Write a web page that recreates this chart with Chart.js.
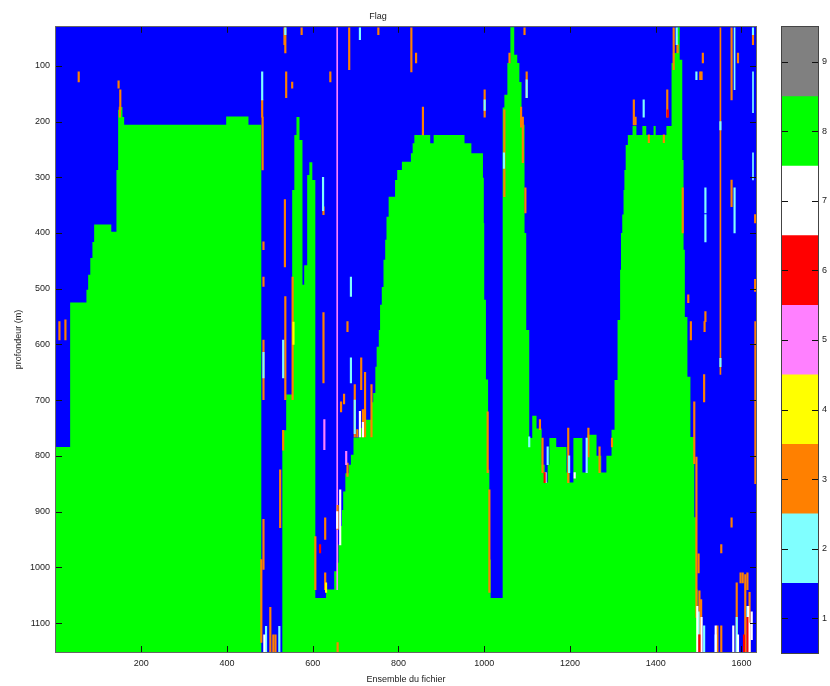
<!DOCTYPE html>
<html>
<head>
<meta charset="utf-8">
<script src="https://cdn.jsdelivr.net/npm/chart.js@4.4.0/dist/chart.umd.min.js"></script>
<style>
  body { margin: 0; background: #fff; }
  #main { position: absolute; left: 0; top: 0; }
  #bar { position: absolute; left: 760px; top: 0; }
</style>
</head>
<body>
<canvas id="main" width="760" height="686"></canvas>
<canvas id="bar" width="70" height="686"></canvas>
<script>
const ensembleRange = [1, 1634];
const depthRange = [30, 1152];
const ensembleTicks = [200, 400, 600, 800, 1000, 1200, 1400, 1600];
const depthTicks = [100, 200, 300, 400, 500, 600, 700, 800, 900, 1000, 1100];

const flagValues = [1, 2, 3, 4, 5, 6, 7, 8, 9];
const flagColors = ['#0000ff', '#80ffff', '#ff8000', '#ffff00', '#ff80ff', '#ff0000', '#ffffff', '#00ff00', '#808080'];

// top of the flag-8 (green) zone, per ensemble step; 1152 = no green in that column
const greenEdgeX = [1, 34, 72, 76, 81, 86, 90, 130, 142, 146, 151, 156, 160, 398, 450, 480,
  529, 538, 552, 557, 562, 569, 576, 580, 587, 592, 599,
  606, 631, 650, 656, 660, 664, 668, 671, 676, 684, 689, 695, 708, 722, 736, 741, 746, 749, 754, 757,
  761, 765, 769, 772, 777, 792, 797, 808, 829, 833, 837, 874, 882, 954, 970, 997, 999, 1000, 1004, 1009, 1012, 1015,
  1043, 1047, 1054, 1061, 1070, 1077, 1082, 1087, 1094, 1098,
  1105, 1112, 1122, 1134, 1141, 1148, 1152, 1168, 1192, 1199, 1208, 1229, 1241, 1262, 1273, 1285, 1297,
  1304, 1311, 1317, 1319, 1322, 1325, 1327, 1330, 1335, 1346, 1355, 1369, 1378, 1395, 1400, 1425,
  1437, 1440, 1449, 1451, 1456, 1462, 1465, 1468, 1474, 1481, 1490, 1495, 1498, 1634];
const greenEdgeDepth = [784, 525, 502, 475, 445, 416, 385, 398, 287, 179, 174, 192, 206, 191, 206, 1152,
  754, 690, 323, 224, 192, 233, 493, 458, 296, 273, 305,
  1055, 1040, 1007, 992, 959, 926, 897, 864, 831, 816, 798, 767, 750, 735, 704, 687, 640, 604, 574, 529,
  497, 448, 412, 371, 335, 305, 287, 272, 257, 239, 224, 239, 224, 239, 257, 301, 382, 520, 663, 825, 986, 1055,
  175, 152, 95, 31, 80, 95, 129, 206, 400, 574,
  768, 728, 751, 816, 848, 816, 768, 784, 830, 848, 768, 830, 762, 800, 830, 800, 753,
  664, 556, 466, 400, 367, 323, 287, 242, 224, 208, 224, 208, 224, 208, 224, 208,
  95, 77, 48, 31, 89, 269, 430, 551, 658, 766, 910, 1040, 1152, 1152];

// isolated flags: [ensemble, depth from, depth to]
const flag2Specks = [[482, 111, 161], [485, 614, 660], [531, 592, 660], [536, 32, 44], [491, 1106, 1152], [522, 1106, 1152],
  [624, 300, 360], [689, 479, 514], [689, 624, 669], [710, 32, 53], [698, 700, 760], [1001, 161, 180], [1046, 256, 284],
  [1099, 125, 157], [1105, 766, 784], [1148, 784, 816], [1198, 800, 830], [1239, 768, 830], [1372, 161, 192],
  [1449, 32, 62], [1495, 111, 125], [1516, 319, 364], [1516, 367, 416], [1584, 319, 400], [1627, 32, 44],
  [1551, 200, 215], [1551, 625, 640], [1513, 1105, 1152], [1589, 1090, 1152], [1614, 1070, 1152], [1500, 1080, 1120], [1540, 1121, 1152]];
const flag2Lines = [[1584, 32, 143], [1627, 111, 184], [1627, 256, 305]];
const flag3Specks = [[54, 111, 129], [9, 559, 592], [23, 556, 592], [147, 127, 140], [151, 143, 179], [150, 174, 192],
  [482, 161, 192], [483, 192, 287], [485, 416, 430], [485, 479, 496], [485, 592, 699], [485, 914, 1004], [480, 986, 1135],
  [534, 32, 62], [536, 32, 77], [538, 111, 157], [552, 129, 140], [535, 340, 461], [536, 514, 699], [524, 825, 929], [531, 754, 790],
  [501, 1072, 1152], [508, 1121, 1152], [513, 1121, 1152], [553, 479, 699], [574, 32, 44],
  [625, 353, 367], [625, 543, 669], [641, 111, 129], [681, 559, 577], [713, 624, 681], [698, 672, 766], [717, 717, 766],
  [722, 650, 766], [737, 672, 766], [666, 703, 721], [673, 689, 707], [606, 945, 1040], [629, 911, 950], [629, 1010, 1040],
  [658, 889, 932], [681, 813, 837], [704, 753, 766], [658, 1135, 1152], [685, 32, 107], [753, 32, 44], [841, 77, 95],
  [830, 32, 111], [857, 174, 224], [1001, 143, 192], [1008, 721, 830], [1012, 861, 1045],
  [1059, 77, 95], [1047, 179, 335], [1086, 174, 210], [1090, 192, 274], [1096, 319, 364], [1099, 111, 157], [1094, 32, 44],
  [1130, 735, 753], [1136, 768, 830], [1196, 750, 848], [1243, 750, 802], [1269, 784, 830], [1298, 768, 784],
  [1349, 161, 206], [1353, 192, 206], [1384, 224, 238], [1419, 224, 238], [1427, 143, 192], [1442, 32, 107], [1451, 62, 77],
  [1463, 319, 400], [1504, 111, 125], [1507, 111, 125], [1510, 77, 95], [1577, 32, 161], [1592, 77, 95], [1577, 305, 353],
  [1627, 44, 62], [1632, 367, 382], [1632, 483, 505], [1482, 559, 592], [1476, 511, 525], [1516, 541, 559], [1514, 559, 577],
  [1513, 654, 703], [1490, 703, 814], [1495, 802, 1090], [1577, 911, 928], [1553, 959, 974], [1500, 976, 1010],
  [1502, 1042, 1152], [1506, 1058, 1152], [1544, 1105, 1152], [1553, 1105, 1152], [1589, 1028, 1152], [1598, 1010, 1028],
  [1603, 1010, 1028], [1609, 1013, 1152], [1619, 1045, 1152], [1614, 1010, 1040]];
const flag3Lines = [[1551, 32, 654], [1632, 559, 850]];
const flag4Specks = [[631, 1028, 1045], [555, 560, 600]];
const flag5Specks = [[678, 792, 816], [627, 735, 789]];
const flag5Lines = [[657, 32, 1040]];
const flag6Specks = [[617, 959, 974], [1141, 830, 848], [1428, 179, 192], [1502, 1121, 1152], [1614, 1090, 1152], [1606, 1121, 1152]];
const flag7Specks = [[664, 861, 960], [657, 900, 930], [710, 720, 766], [717, 740, 766], [1143, 830, 848], [1211, 830, 840],
  [1497, 1070, 1152], [1507, 1090, 1152], [1540, 1105, 1152], [1581, 1105, 1152], [1592, 1121, 1152], [1616, 1070, 1152],
  [1619, 1100, 1152], [1624, 1080, 1130], [487, 1121, 1152]];

const font = { family: 'Liberation Sans', size: 9, weight: 'normal' };
const textColor = '#222';
const plain = v => String(v);

function specks(list, flag, thickness, order) {
  return {
    type: 'bar',
    data: list.map(s => ({ x: s[0], y: [s[1], s[2]] })),
    backgroundColor: flagColors[flag - 1],
    borderWidth: 0,
    barThickness: thickness,
    grouped: false,
    order: order
  };
}

const frame = {
  id: 'frame',
  afterDatasetsDraw(chart) {
    const { ctx, chartArea: a, scales: { x, y } } = chart;
    ctx.save();
    ctx.strokeStyle = '#111';
    ctx.lineWidth = 1;
    ctx.beginPath();
    ensembleTicks.forEach(v => {
      const px = Math.round(x.getPixelForValue(v)) + 0.5;
      ctx.moveTo(px, a.bottom); ctx.lineTo(px, a.bottom - 6);
      ctx.moveTo(px, a.top); ctx.lineTo(px, a.top + 6);
    });
    depthTicks.forEach(v => {
      const py = Math.round(y.getPixelForValue(v)) + 0.5;
      ctx.moveTo(a.left, py); ctx.lineTo(a.left + 6, py);
      ctx.moveTo(a.right, py); ctx.lineTo(a.right - 6, py);
    });
    ctx.stroke();
    ctx.strokeStyle = '#666';
    ctx.strokeRect(Math.round(a.left) - 0.5, Math.round(a.top) - 0.5, Math.round(a.right - a.left) + 1, Math.round(a.bottom - a.top) + 1);
    ctx.restore();
  }
};

new Chart(document.getElementById('main'), {
  type: 'line',
  data: {
    datasets: [
      {
        label: '1',
        data: [{ x: ensembleRange[0], y: depthRange[1] }, { x: ensembleRange[1], y: depthRange[1] }],
        borderWidth: 0, borderColor: 'rgba(0,0,0,0)', pointRadius: 0,
        fill: { value: depthRange[0] }, backgroundColor: flagColors[0], order: 20
      },
      {
        label: '8',
        data: greenEdgeX.map((x, i) => ({ x: x, y: greenEdgeDepth[i] })),
        stepped: 'before',
        borderWidth: 0, borderColor: 'rgba(0,0,0,0)', pointRadius: 0,
        fill: { value: depthRange[1] }, backgroundColor: flagColors[7], order: 19
      },
      specks(flag3Specks, 3, 1.5, 8),
      specks(flag2Specks, 2, 1.5, 7),
      specks(flag4Specks, 4, 1.5, 6),
      specks(flag5Specks, 5, 1.5, 6),
      specks(flag7Specks, 7, 1.5, 5),
      specks(flag6Specks, 6, 1.5, 4),
      specks(flag3Lines, 3, 1, 9),
      specks(flag5Lines, 5, 1, 9),
      specks(flag2Lines, 2, 1, 3)
    ]
  },
  options: {
    responsive: false,
    animation: false,
    events: [],
    layout: { padding: { left: 0, right: 4, top: 0, bottom: 0 } },
    plugins: {
      legend: { display: false },
      tooltip: { enabled: false },
      title: { display: true, text: 'Flag', font: font, color: textColor, padding: { top: 11, bottom: 5 } }
    },
    scales: {
      x: {
        type: 'linear',
        offset: false,
        min: ensembleRange[0], max: ensembleRange[1],
        afterFit: s => { s.height = 34; },
        afterBuildTicks: s => { s.ticks = ensembleTicks.map(v => ({ value: v })); },
        grid: { display: false, drawTicks: false, offset: false },
        border: { display: false },
        ticks: { padding: 6, color: textColor, font: font, maxRotation: 0, callback: plain },
        title: { display: true, text: 'Ensemble du fichier', color: textColor, font: font, padding: { top: 0, bottom: 1 } }
      },
      y: {
        type: 'linear',
        reverse: true,
        min: depthRange[0], max: depthRange[1],
        afterFit: s => { s.width = 56; },
        afterBuildTicks: s => { s.ticks = depthTicks.map(v => ({ value: v })); },
        grid: { display: false, drawTicks: false },
        border: { display: false },
        ticks: { padding: 6, color: textColor, font: font, callback: plain },
        title: { display: true, text: 'profondeur (m)', color: textColor, font: font, padding: { top: 13, bottom: 0 } }
      }
    }
  },
  plugins: [frame]
});

const barFrame = {
  id: 'barFrame',
  afterDatasetsDraw(chart) {
    const { ctx, chartArea: a, scales: { y } } = chart;
    ctx.save();
    ctx.strokeStyle = '#111';
    ctx.lineWidth = 1;
    ctx.beginPath();
    flagValues.forEach(v => {
      const py = Math.round(y.getPixelForValue(v)) + 0.5;
      ctx.moveTo(a.left, py); ctx.lineTo(a.left + 6, py);
      ctx.moveTo(a.right, py); ctx.lineTo(a.right - 6, py);
    });
    ctx.stroke();
    ctx.strokeStyle = '#444';
    ctx.strokeRect(Math.round(a.left) - 0.5, Math.round(a.top) - 0.5, Math.round(a.right - a.left) + 1, Math.round(a.bottom - a.top) + 1);
    ctx.restore();
  }
};

new Chart(document.getElementById('bar'), {
  type: 'bar',
  data: {
    labels: [''],
    datasets: flagValues.map((f, i) => ({
      label: String(f),
      data: [[f - 0.5, f + 0.5]],
      backgroundColor: flagColors[i],
      borderWidth: 0,
      grouped: false,
      barPercentage: 1,
      categoryPercentage: 1
    }))
  },
  options: {
    responsive: false,
    animation: false,
    events: [],
    layout: { padding: { left: 22, right: 0, top: 27, bottom: 33 } },
    plugins: { legend: { display: false }, tooltip: { enabled: false } },
    scales: {
      x: { display: false },
      y: {
        position: 'right',
        min: 0.5, max: 9.5,
        afterFit: s => { s.width = 12; },
        afterBuildTicks: s => { s.ticks = flagValues.map(v => ({ value: v })); },
        grid: { display: false, drawTicks: false },
        border: { display: false },
        ticks: { padding: 4, color: textColor, font: font }
      }
    }
  },
  plugins: [barFrame]
});
</script>
</body>
</html>
